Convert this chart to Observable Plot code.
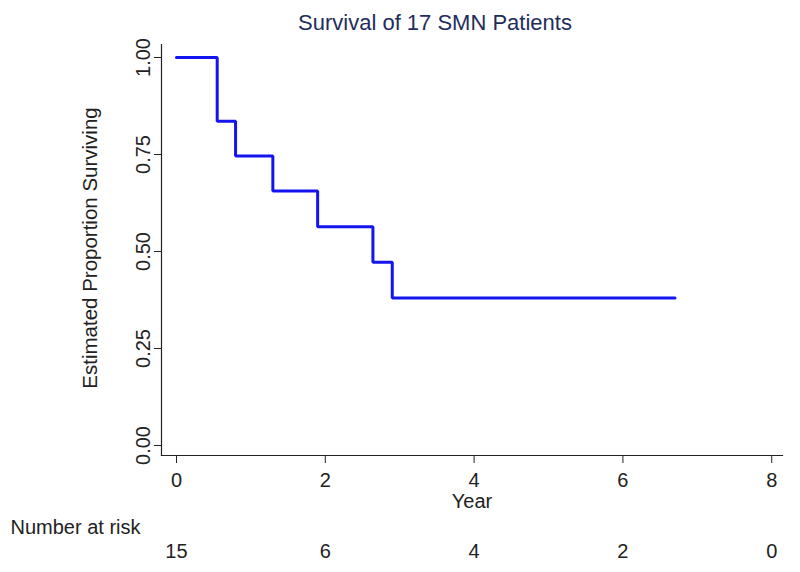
<!DOCTYPE html>
<html><head><meta charset="utf-8">
<script src="https://cdn.jsdelivr.net/npm/d3@7"></script>
<script src="https://cdn.jsdelivr.net/npm/@observablehq/plot@0.6"></script>
<style>html,body{margin:0;padding:0;background:#fff;} svg{display:block}</style>
</head><body><div id="chart"></div>
<script>
const title = "Survival of 17 SMN Patients";
const yLabel = "Estimated Proportion Surviving";
const xLabel = "Year";
const eventTimes = [0, 0.547, 0.794, 1.295, 1.897, 2.640, 2.900];
const survival = [1.000, 0.836, 0.746, 0.656, 0.564, 0.472, 0.380];
const lastFollowUp = 6.70;
const xTicks = [0, 2, 4, 6, 8];
const yTicks = [0, 0.25, 0.5, 0.75, 1];
const riskLabel = "Number at risk";
const riskTimes = [0, 2, 4, 6, 8];
const riskCounts = [15, 6, 4, 2, 0];

const curve = eventTimes.map((t, i) => ({t, s: survival[i]}));
curve.push({t: lastFollowUp, s: survival[survival.length - 1]});
const risk = riskTimes.map((t, i) => ({t, n: riskCounts[i]}));

const font = "'Liberation Sans', Arial, sans-serif";
const ink = "#222";
const chart = Plot.plot({
  width: 800, height: 572,
  marginLeft: 161, marginRight: 18, marginTop: 44, marginBottom: 117,
  style: {fontFamily: font, fontSize: "20px", color: ink, background: "#fff"},
  x: {domain: [-0.2016, 8.145]},
  y: {domain: [-0.0258, 1.0335]},
  marks: [
    Plot.frame({anchor: "left", stroke: ink, strokeWidth: 1.2}),
    Plot.frame({anchor: "bottom", stroke: ink, strokeWidth: 1.2}),
    Plot.axisX({ticks: xTicks, tickSize: 8, tickPadding: 9, fontSize: 20, label: null, tickFormat: d => String(d), stroke: ink, fill: ink}),
    Plot.axisY({ticks: yTicks, tickSize: 7, tickPadding: 5, tickRotate: -90, fontSize: 20, label: null, tickFormat: d3.format(".2f"), stroke: ink, fill: ink}),
    Plot.line(curve, {x: "t", y: "s", curve: "step-after", stroke: "#1414f0", strokeWidth: 3, strokeLinejoin: "miter"}),
    Plot.text([title], {frameAnchor: "top", dx: -37, dy: -14.5, lineAnchor: "bottom", fontSize: 22, fill: "#1f2d5c"}),
    Plot.text([xLabel], {frameAnchor: "bottom", dy: 52, lineAnchor: "bottom", fontSize: 20, fill: ink}),
    Plot.text([yLabel], {frameAnchor: "left", dx: -65, dy: -2, rotate: -90, textAnchor: "middle", lineAnchor: "bottom", fontSize: 20.5, fill: ink}),
    Plot.text([riskLabel], {frameAnchor: "bottom-left", dx: -151, dy: 78.3, textAnchor: "start", lineAnchor: "bottom", fontSize: 20, fill: ink}),
    Plot.text(risk, {x: "t", text: "n", frameAnchor: "bottom", dy: 102.3, lineAnchor: "bottom", fontSize: 20, fill: ink})
  ]
});
document.getElementById("chart").appendChild(chart);
</script>
</body></html>
